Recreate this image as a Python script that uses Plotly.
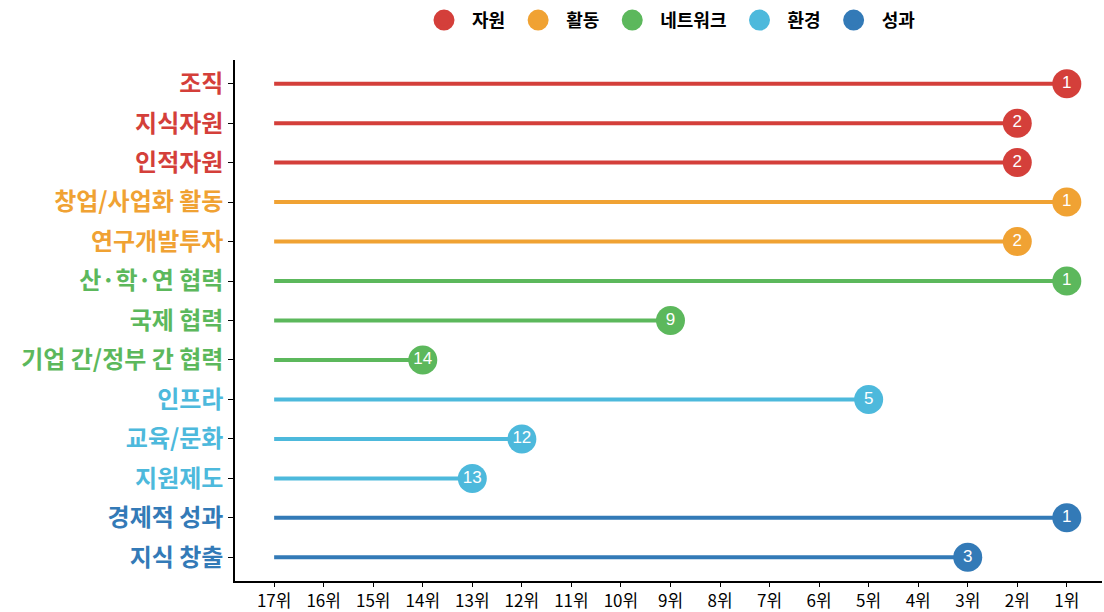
import plotly.graph_objects as go

categories = ["조직", "지식자원", "인적자원", "창업/사업화 활동", "연구개발투자",
              "산·학·연 협력", "국제 협력", "기업 간/정부 간 협력",
              "인프라", "교육/문화", "지원제도", "경제적 성과", "지식 창출"]
groups = ["자원", "자원", "자원", "활동", "활동",
          "네트워크", "네트워크", "네트워크",
          "환경", "환경", "환경", "성과", "성과"]
ranks = [1, 2, 2, 1, 2, 1, 9, 14, 5, 12, 13, 1, 3]
group_order = ["자원", "활동", "네트워크", "환경", "성과"]
group_colors = {"자원": "#d43f3a", "활동": "#f0a233", "네트워크": "#5cb85c",
                "환경": "#4db9dc", "성과": "#337ab7"}
base_rank = 17
tick_ranks = list(range(17, 0, -1))
tick_labels = [f"{r}위" for r in tick_ranks]

FONT = "Noto Sans CJK KR"
fig = go.Figure()

for g in group_order:
    xs, ys = [], []
    mx, my, mt = [], [], []
    for c, gg, r in zip(categories, groups, ranks):
        if gg != g:
            continue
        xs += [base_rank, r, None]
        ys += [c, c, None]
        mx.append(r); my.append(c); mt.append(str(r))
    col = group_colors[g]
    fig.add_trace(go.Scatter(x=xs, y=ys, mode="lines", line=dict(color=col, width=4),
                             showlegend=False, hoverinfo="skip"))
    fig.add_trace(go.Scatter(x=mx, y=my, mode="markers+text", text=mt,
                             textposition="middle center",
                             textfont=dict(color="white", size=17, family="Liberation Sans, Arial"),
                             marker=dict(color=col, size=29), showlegend=False))
    fig.add_trace(go.Scatter(x=[None], y=[None], mode="markers", name=g,
                             marker=dict(color=col, size=26, line=dict(color=col, width=6))))

ticktext = [f"<span style='color:{group_colors[g]}'><b>{c}</b></span>" for c, g in zip(categories, groups)]

fig.update_layout(
    width=1104, height=612,
    margin=dict(l=235, r=2, t=57, b=31),
    paper_bgcolor="white", plot_bgcolor="white",
    font=dict(family=FONT, color="black"),
    legend=dict(orientation="h", x=0.5, xanchor="center", y=1.076, yanchor="middle",
                font=dict(size=18, family=FONT, color="black", weight="bold"),
                itemsizing="trace", itemwidth=46, bgcolor="rgba(0,0,0,0)"),
    xaxis=dict(range=[17.79, 0.29], tickvals=tick_ranks, ticktext=tick_labels,
               showgrid=False, zeroline=False, showline=True, linecolor="black", linewidth=1.5,
               ticks="outside", ticklen=4, tickcolor="black", automargin=False,
               tickfont=dict(size=17, family=FONT, color="black")),
    yaxis=dict(type="category", categoryorder="array", categoryarray=categories,
               range=[12.6, -0.6], tickvals=categories, ticktext=ticktext,
               showgrid=False, zeroline=False, showline=True, linecolor="black", linewidth=1.5,
               ticks="outside", ticklen=5, tickcolor="black", automargin=False,
               tickfont=dict(size=24, family=FONT)),
)

fig.write_html("out.html")
